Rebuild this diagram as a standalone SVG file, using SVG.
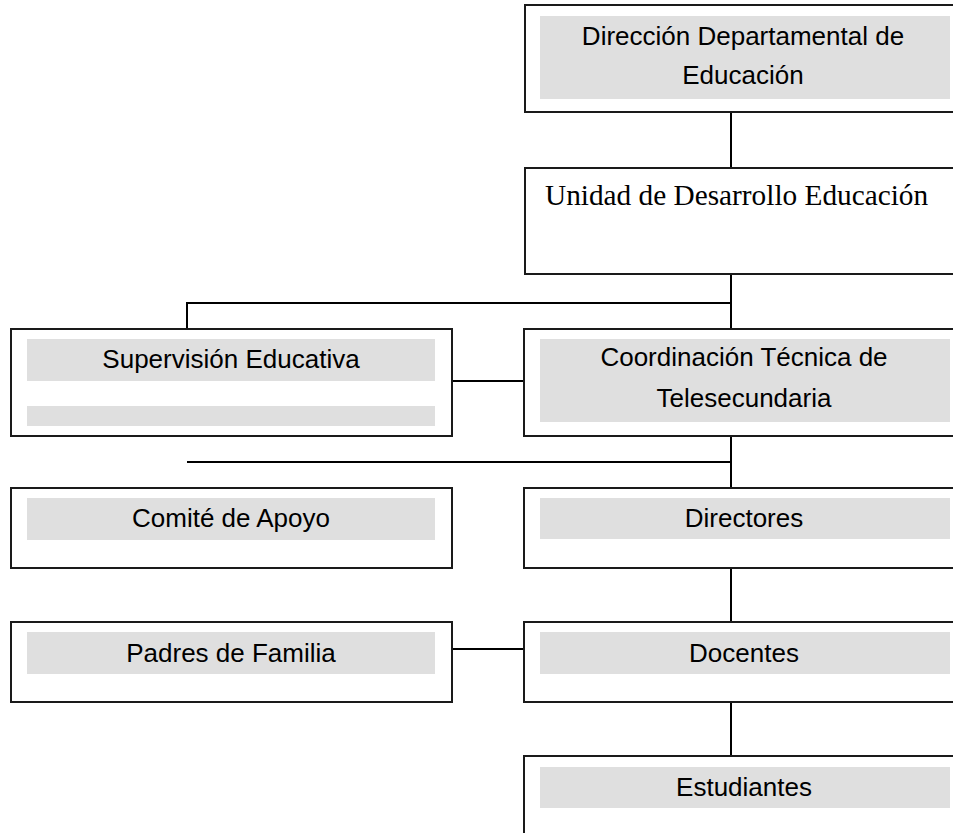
<svg xmlns="http://www.w3.org/2000/svg" width="953" height="833" viewBox="0 0 953 833">
<style>
.box{fill:#fff;stroke:#1a1a1a;stroke-width:2}
.band{fill:#dfdfdf}
.t{font-family:"Liberation Sans",Arial,sans-serif;font-size:26px;fill:#000;text-anchor:middle}
.ts{font-family:"Liberation Serif","Times New Roman",serif;font-size:29.3px;fill:#000}
.c{stroke:#000;stroke-width:2;fill:none}
</style>
<rect width="953" height="833" fill="#fff"/>
<g id="connectors">
<line class="c" x1="731" y1="112" x2="731" y2="168"/>
<line class="c" x1="731" y1="274" x2="731" y2="329"/>
<polyline class="c" points="187,329 187,303 731,303"/>
<line class="c" x1="452" y1="381" x2="524" y2="381"/>
<line class="c" x1="731" y1="436" x2="731" y2="488"/>
<line class="c" x1="187" y1="462" x2="731" y2="462"/>
<line class="c" x1="731" y1="568" x2="731" y2="622"/>
<line class="c" x1="452" y1="649" x2="524" y2="649"/>
<line class="c" x1="731" y1="702" x2="731" y2="756"/>
</g>
<g id="direccion">
<rect class="box" x="525" y="5" width="440" height="107"/>
<rect class="band" x="540" y="16" width="410" height="83"/>
<text class="t" x="743" y="45">Dirección Departamental de</text>
<text class="t" x="743" y="84">Educación</text>
</g>
<g id="unidad">
<rect class="box" x="525" y="168" width="440" height="106"/>
<text class="ts" x="545" y="205">Unidad de Desarrollo Educación</text>
</g>
<g id="supervision">
<rect class="box" x="11" y="329" width="441" height="107"/>
<rect class="band" x="27" y="339" width="408" height="42"/>
<rect class="band" x="27" y="406" width="408" height="20"/>
<text class="t" x="231" y="368">Supervisión Educativa</text>
</g>
<g id="coordinacion">
<rect class="box" x="524" y="329" width="441" height="107"/>
<rect class="band" x="540" y="339" width="410" height="83"/>
<text class="t" x="744" y="366">Coordinación Técnica de</text>
<text class="t" x="744" y="407">Telesecundaria</text>
</g>
<g id="comite">
<rect class="box" x="11" y="488" width="441" height="80"/>
<rect class="band" x="27" y="498" width="408" height="42"/>
<text class="t" x="231" y="527">Comité de Apoyo</text>
</g>
<g id="directores">
<rect class="box" x="524" y="488" width="441" height="80"/>
<rect class="band" x="540" y="498" width="410" height="41"/>
<text class="t" x="744" y="527">Directores</text>
</g>
<g id="padres">
<rect class="box" x="11" y="622" width="441" height="80"/>
<rect class="band" x="27" y="632" width="408" height="42"/>
<text class="t" x="231" y="662">Padres de Familia</text>
</g>
<g id="docentes">
<rect class="box" x="524" y="622" width="441" height="80"/>
<rect class="band" x="540" y="632" width="410" height="42"/>
<text class="t" x="744" y="662">Docentes</text>
</g>
<g id="estudiantes">
<rect class="box" x="524" y="756" width="441" height="90"/>
<rect class="band" x="540" y="767" width="410" height="41"/>
<text class="t" x="744" y="796">Estudiantes</text>
</g>
</svg>
